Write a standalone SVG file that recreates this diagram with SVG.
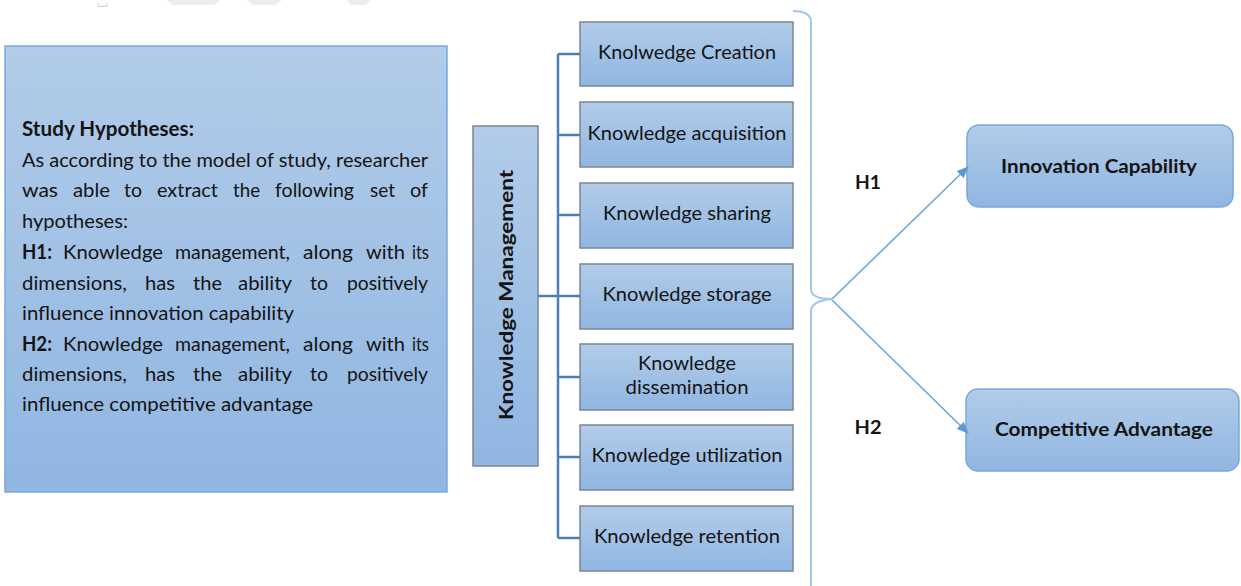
<svg xmlns="http://www.w3.org/2000/svg" width="1241" height="586" viewBox="0 0 1241 586">
  <defs>
    <linearGradient id="fillBlue" x1="0" y1="0" x2="0" y2="1">
      <stop offset="0" stop-color="#b2cce9"/>
      <stop offset="1" stop-color="#90b6e1"/>
    </linearGradient>
    <marker id="arrowHead" viewBox="0 0 12 10" refX="11" refY="5" markerWidth="12" markerHeight="10" markerUnits="userSpaceOnUse" orient="auto">
      <path d="M0,0 L12,5 L0,10 Z" fill="#5b9bd5"/>
    </marker>
    <style>
      .txt { font-family: Lato, "Open Sans", "Liberation Sans", sans-serif; fill: #141414; }
      .body { font-size: 20px; }
      .dim { font-size: 19px; }
      .bold { font-weight: bold; }
      .panel { fill: url(#fillBlue); stroke: #7aa8da; stroke-width: 1.5; }
      .dimBox { fill: url(#fillBlue); stroke: #7b8794; stroke-width: 1.5; }
      .tree { fill: none; stroke: #4b7fb2; stroke-width: 2.5; }
      .brace { fill: none; stroke: #a3c6ea; stroke-width: 2; }
      .arrow { fill: none; stroke: #6aa3d9; stroke-width: 1.5; marker-end: url(#arrowHead); }
      .mark { fill: #ededed; }
    </style>
  </defs>

  <rect x="0" y="0" width="1241" height="586" fill="#ffffff"/>

  <!-- faint page marks along the top edge -->
  <g id="page-marks">
    <polygon class="mark" points="167,0 220,0 214,5 172,5"/>
    <polygon class="mark" points="247,0 282,0 275,5 253,5"/>
    <polygon class="mark" points="347,0 371,0 366,5 351,5"/>
    <path d="M98,3 L98,6.5 L107,6.5 L107,3" fill="none" stroke="#d0d0d0" stroke-width="1"/>
  </g>

  <!-- hypotheses panel; justified lines are set word by word -->
  <g id="hypotheses">
    <rect class="panel" x="5" y="46" width="442" height="446"/>
    <text class="txt body bold" x="22" y="136" textLength="172" lengthAdjust="spacingAndGlyphs">Study Hypotheses:</text>
    <text class="txt body" x="22" y="167" textLength="406" lengthAdjust="spacing">As according to the model of study, researcher</text>

    <g class="txt body">
      <text x="22" y="197" textLength="36" lengthAdjust="spacingAndGlyphs">was</text>
      <text x="73" y="197" textLength="37" lengthAdjust="spacingAndGlyphs">able</text>
      <text x="124" y="197" textLength="18" lengthAdjust="spacingAndGlyphs">to</text>
      <text x="157" y="197" textLength="61" lengthAdjust="spacingAndGlyphs">extract</text>
      <text x="233" y="197" textLength="27" lengthAdjust="spacingAndGlyphs">the</text>
      <text x="275" y="197" textLength="79" lengthAdjust="spacingAndGlyphs">following</text>
      <text x="370" y="197" textLength="25" lengthAdjust="spacingAndGlyphs">set</text>
      <text x="410" y="197" textLength="18" lengthAdjust="spacingAndGlyphs">of</text>
    </g>

    <text class="txt body" x="22" y="228" textLength="106" lengthAdjust="spacingAndGlyphs">hypotheses:</text>

    <g class="txt body">
      <text class="bold" x="22" y="259" textLength="30" lengthAdjust="spacingAndGlyphs">H1:</text>
      <text x="63" y="259" textLength="100" lengthAdjust="spacingAndGlyphs">Knowledge</text>
      <text x="175" y="259" textLength="115" lengthAdjust="spacingAndGlyphs">management,</text>
      <text x="303" y="259" textLength="50" lengthAdjust="spacingAndGlyphs">along</text>
      <text x="366" y="259" textLength="39" lengthAdjust="spacingAndGlyphs">with</text>
      <text x="412" y="259" textLength="17" lengthAdjust="spacingAndGlyphs">its</text>
    </g>
    <g class="txt body">
      <text x="22" y="290" textLength="105" lengthAdjust="spacingAndGlyphs">dimensions,</text>
      <text x="145" y="290" textLength="30" lengthAdjust="spacingAndGlyphs">has</text>
      <text x="193" y="290" textLength="29" lengthAdjust="spacingAndGlyphs">the</text>
      <text x="238" y="290" textLength="54" lengthAdjust="spacingAndGlyphs">ability</text>
      <text x="310" y="290" textLength="18" lengthAdjust="spacingAndGlyphs">to</text>
      <text x="347" y="290" textLength="81" lengthAdjust="spacingAndGlyphs">positively</text>
    </g>

    <text class="txt body" x="22" y="320" textLength="272" lengthAdjust="spacingAndGlyphs">influence innovation capability</text>

    <g class="txt body">
      <text class="bold" x="22" y="351" textLength="30" lengthAdjust="spacingAndGlyphs">H2:</text>
      <text x="63" y="351" textLength="100" lengthAdjust="spacingAndGlyphs">Knowledge</text>
      <text x="175" y="351" textLength="115" lengthAdjust="spacingAndGlyphs">management,</text>
      <text x="303" y="351" textLength="50" lengthAdjust="spacingAndGlyphs">along</text>
      <text x="366" y="351" textLength="39" lengthAdjust="spacingAndGlyphs">with</text>
      <text x="412" y="351" textLength="17" lengthAdjust="spacingAndGlyphs">its</text>
    </g>
    <g class="txt body">
      <text x="22" y="381" textLength="105" lengthAdjust="spacingAndGlyphs">dimensions,</text>
      <text x="145" y="381" textLength="30" lengthAdjust="spacingAndGlyphs">has</text>
      <text x="193" y="381" textLength="29" lengthAdjust="spacingAndGlyphs">the</text>
      <text x="238" y="381" textLength="54" lengthAdjust="spacingAndGlyphs">ability</text>
      <text x="310" y="381" textLength="18" lengthAdjust="spacingAndGlyphs">to</text>
      <text x="347" y="381" textLength="81" lengthAdjust="spacingAndGlyphs">positively</text>
    </g>

    <text class="txt body" x="22" y="411" textLength="291" lengthAdjust="spacingAndGlyphs">influence competitive advantage</text>
  </g>

  <!-- central construct -->
  <g id="knowledge-management">
    <rect class="dimBox" x="473" y="126" width="65" height="340"/>
    <text class="txt dim bold" transform="translate(513,295) rotate(-90)" text-anchor="middle" textLength="250" lengthAdjust="spacingAndGlyphs">Knowledge Management</text>
  </g>

  <!-- dimensions -->
  <g id="dim-creation">
    <rect class="dimBox" x="580" y="22" width="213" height="64"/>
    <text class="txt dim" x="687" y="59" text-anchor="middle" textLength="178" lengthAdjust="spacingAndGlyphs">Knolwedge Creation</text>
  </g>
  <g id="dim-acquisition">
    <rect class="dimBox" x="580" y="102" width="213" height="65"/>
    <text class="txt dim" x="687" y="140" text-anchor="middle" textLength="199" lengthAdjust="spacingAndGlyphs">Knowledge acquisition</text>
  </g>
  <g id="dim-sharing">
    <rect class="dimBox" x="580" y="183" width="213" height="65"/>
    <text class="txt dim" x="687" y="220" text-anchor="middle" textLength="168" lengthAdjust="spacingAndGlyphs">Knowledge sharing</text>
  </g>
  <g id="dim-storage">
    <rect class="dimBox" x="580" y="264" width="213" height="65"/>
    <text class="txt dim" x="687" y="301" text-anchor="middle" textLength="169" lengthAdjust="spacingAndGlyphs">Knowledge storage</text>
  </g>
  <g id="dim-dissemination">
    <rect class="dimBox" x="580" y="344" width="213" height="66"/>
    <text class="txt dim" x="687" y="370" text-anchor="middle" textLength="98" lengthAdjust="spacingAndGlyphs">Knowledge</text>
    <text class="txt dim" x="687" y="394" text-anchor="middle" textLength="123" lengthAdjust="spacingAndGlyphs">dissemination</text>
  </g>
  <g id="dim-utilization">
    <rect class="dimBox" x="580" y="425" width="213" height="65"/>
    <text class="txt dim" x="687" y="462" text-anchor="middle" textLength="191" lengthAdjust="spacingAndGlyphs">Knowledge utilization</text>
  </g>
  <g id="dim-retention">
    <rect class="dimBox" x="580" y="506" width="213" height="65"/>
    <text class="txt dim" x="687" y="543" text-anchor="middle" textLength="186" lengthAdjust="spacingAndGlyphs">Knowledge retention</text>
  </g>

  <!-- outcomes -->
  <g id="innovation-capability">
    <rect class="panel" x="967" y="125" width="266" height="82" rx="12" ry="12"/>
    <text class="txt dim bold" x="1099" y="173" text-anchor="middle" textLength="196" lengthAdjust="spacingAndGlyphs">Innovation Capability</text>
  </g>
  <g id="competitive-advantage">
    <rect class="panel" x="966" y="389" width="273" height="82" rx="12" ry="12"/>
    <text class="txt dim bold" x="1104" y="436" text-anchor="middle" textLength="218" lengthAdjust="spacingAndGlyphs">Competitive Advantage</text>
  </g>

  <!-- connectors -->
  <g id="connectors">
    <path class="tree" d="M538,296 H558 M558,54 V538 M558,54 H580 M558,135 H580 M558,215 H580 M558,296 H580 M558,377 H580 M558,457 H580 M558,538 H580"/>
    <path class="brace" d="M793,11 Q811,11 811,22 L811,289 Q811,299 832,299 Q811,301 811,311 L811,586"/>
    <line class="arrow" x1="832" y1="299" x2="968" y2="167"/>
    <line class="arrow" x1="832" y1="300" x2="968" y2="433"/>
    <text class="txt dim bold" x="868" y="189" text-anchor="middle" textLength="26" lengthAdjust="spacingAndGlyphs">H1</text>
    <text class="txt dim bold" x="868" y="434" text-anchor="middle" textLength="27" lengthAdjust="spacingAndGlyphs">H2</text>
  </g>
</svg>
